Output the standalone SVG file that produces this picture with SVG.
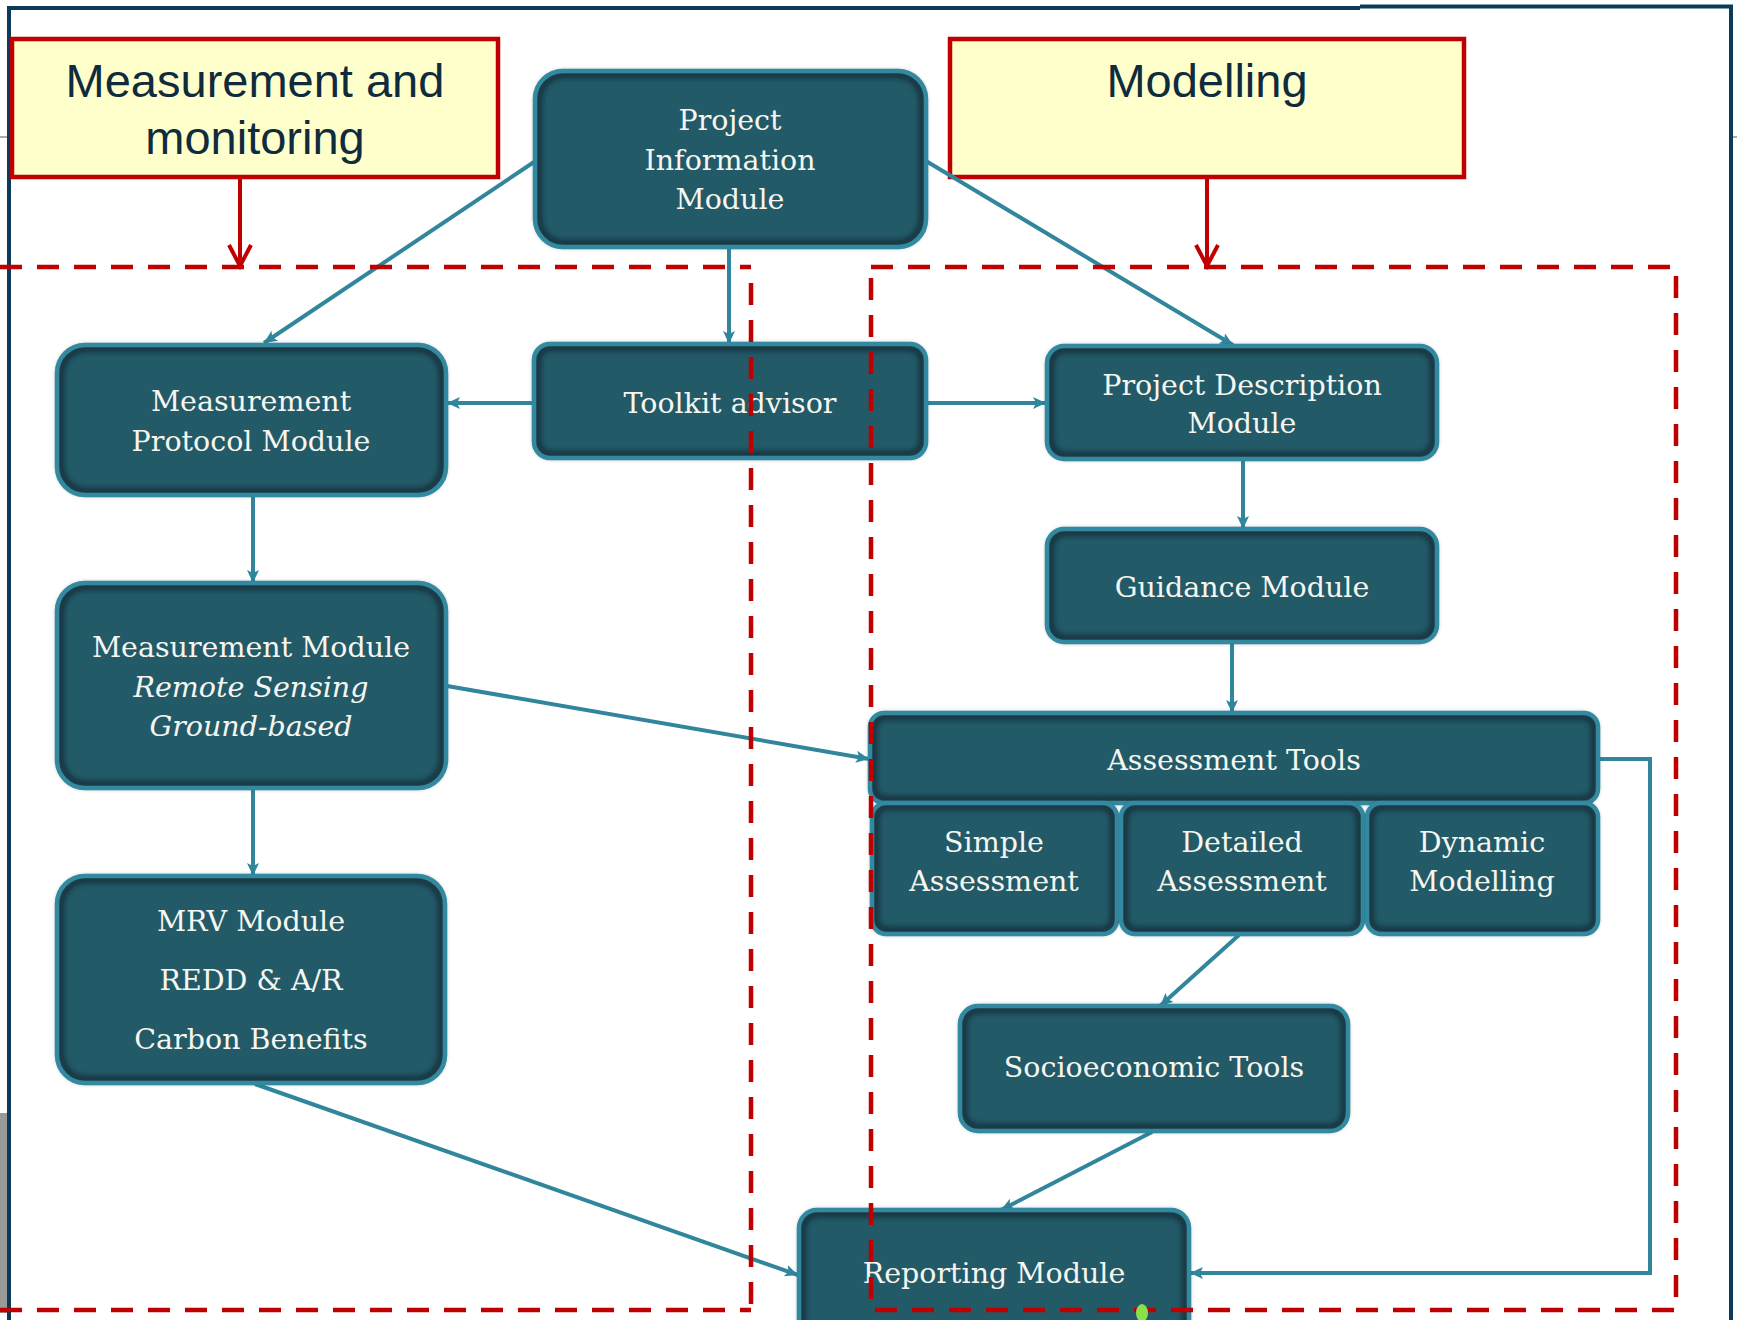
<svg xmlns="http://www.w3.org/2000/svg" width="1737" height="1320" viewBox="0 0 1737 1320">
<style>
.lbl{fill:#ffffcc;stroke:#c00000;stroke-width:4.5}
.lt{font-family:"Liberation Sans",Arial,sans-serif;font-size:47px;fill:#0f2b3d;text-anchor:middle}
.nf{fill:#235a68}
.ns{fill:none;stroke:#143641;stroke-width:7;filter:url(#bl)}
.nb{fill:none;stroke:#3389a0;stroke-width:4.5}
.t{font-family:"DejaVu Serif","Liberation Serif",serif;font-size:28.5px;fill:#f6f6f0;text-anchor:middle}
.i{font-style:italic}
.c{fill:none;stroke:#31869c;stroke-width:4}
.r{fill:none;stroke:#c00000;stroke-width:4}
.d{fill:none;stroke:#c00000;stroke-width:4.5;stroke-dasharray:22 15}
.fr{fill:none;stroke:#0b3a5a;stroke-width:4}
</style>
<defs>
<filter id="bl" x="-10%" y="-10%" width="120%" height="120%"><feGaussianBlur stdDeviation="2.5"/></filter>
<marker id="ah" markerUnits="userSpaceOnUse" markerWidth="14" markerHeight="14" refX="13" refY="7" orient="auto"><path d="M0,1 L13,7 L0,13 L3,7 z" fill="#31869c"/></marker>
</defs>
<rect width="1737" height="1320" fill="#ffffff"/>
<g id="background">
<rect x="0" y="1113" width="8" height="200" fill="#9a9a9a"/>
<line x1="0" y1="137" x2="8" y2="137" stroke="#909090" stroke-width="1.5"/>
<line x1="1733" y1="137" x2="1737" y2="137" stroke="#909090" stroke-width="1.5"/>
<path class="fr" d="M9,1320 L9,8 L1360,8"/>
<path class="fr" d="M1360,6.5 L1731,6.5 L1731,1320"/>
</g>
<g id="label-measurement">
<rect class="lbl" x="12" y="39" width="486" height="138"/>
<text class="lt" x="255" y="97">Measurement and</text>
<text class="lt" x="255" y="154">monitoring</text>
</g>
<g id="label-modelling">
<rect class="lbl" x="950" y="39" width="514" height="138"/>
<text class="lt" x="1207" y="97">Modelling</text>
</g>
<g id="connectors">
<path class="r" d="M240,177 L240,265"/>
<path class="r" d="M229,245 L240,266 L251,245"/>
<path class="r" d="M1207,177 L1207,265"/>
<path class="r" d="M1196,245 L1207,266 L1218,245"/>
<path class="c" marker-end="url(#ah)" d="M534,162 L264,343"/>
<path class="c" marker-end="url(#ah)" d="M729,247 L729,344"/>
<path class="c" marker-end="url(#ah)" d="M926,161 L1233,345"/>
<path class="c" marker-end="url(#ah)" d="M534,403 L447,403"/>
<path class="c" marker-end="url(#ah)" d="M926,403 L1046,403"/>
<path class="c" marker-end="url(#ah)" d="M1243,459 L1243,529"/>
<path class="c" marker-end="url(#ah)" d="M1232,642 L1232,713"/>
<path class="c" marker-end="url(#ah)" d="M253,495 L253,583"/>
<path class="c" marker-end="url(#ah)" d="M447,686 L869,759"/>
<path class="c" marker-end="url(#ah)" d="M253,788 L253,876"/>
<path class="c" marker-end="url(#ah)" d="M255,1084 L798,1275"/>
<path class="c" marker-end="url(#ah)" d="M1239,935 L1160,1006"/>
<path class="c" marker-end="url(#ah)" d="M1152,1132 L1001,1210"/>
<path class="c" marker-end="url(#ah)" d="M1598,759 L1650,759 L1650,1273 L1190,1273"/>
</g>
<g id="pim">
<rect class="nf" x="535" y="71" width="391" height="176" rx="28"/>
<rect class="ns" x="539" y="75" width="383" height="168" rx="25"/>
<rect class="nb" x="535" y="71" width="391" height="176" rx="28"/>
<text class="t" x="730" y="130">Project</text>
<text class="t" x="730" y="170">Information</text>
<text class="t" x="730" y="209">Module</text>
</g>
<g id="mpm">
<rect class="nf" x="57" y="345" width="389" height="150" rx="28"/>
<rect class="ns" x="61" y="349" width="381" height="142" rx="25"/>
<rect class="nb" x="57" y="345" width="389" height="150" rx="28"/>
<text class="t" x="251" y="411">Measurement</text>
<text class="t" x="251" y="451">Protocol Module</text>
</g>
<g id="toolkit">
<rect class="nf" x="534" y="344" width="392" height="114" rx="16"/>
<rect class="ns" x="538" y="348" width="384" height="106" rx="13"/>
<rect class="nb" x="534" y="344" width="392" height="114" rx="16"/>
<text class="t" x="730" y="413">Toolkit advisor</text>
</g>
<g id="pdm">
<rect class="nf" x="1047" y="346" width="390" height="113" rx="17"/>
<rect class="ns" x="1051" y="350" width="382" height="105" rx="14"/>
<rect class="nb" x="1047" y="346" width="390" height="113" rx="17"/>
<text class="t" x="1242" y="395">Project Description</text>
<text class="t" x="1242" y="433">Module</text>
</g>
<g id="guidance">
<rect class="nf" x="1047" y="529" width="390" height="113" rx="17"/>
<rect class="ns" x="1051" y="533" width="382" height="105" rx="14"/>
<rect class="nb" x="1047" y="529" width="390" height="113" rx="17"/>
<text class="t" x="1242" y="597">Guidance Module</text>
</g>
<g id="mm">
<rect class="nf" x="57" y="583" width="389" height="205" rx="28"/>
<rect class="ns" x="61" y="587" width="381" height="197" rx="25"/>
<rect class="nb" x="57" y="583" width="389" height="205" rx="28"/>
<text class="t" x="251" y="657">Measurement Module</text>
<text class="t i" x="251" y="697">Remote Sensing</text>
<text class="t i" x="251" y="736">Ground-based</text>
</g>
<g id="assessment">
<rect class="nf" x="870" y="713" width="728" height="90" rx="14"/>
<rect class="ns" x="874" y="717" width="720" height="82" rx="11"/>
<rect class="nb" x="870" y="713" width="728" height="90" rx="14"/>
<text class="t" x="1234" y="770">Assessment Tools</text>
</g>
<g id="simple">
<rect class="nf" x="872" y="803" width="245" height="131" rx="14"/>
<rect class="ns" x="876" y="807" width="237" height="123" rx="11"/>
<rect class="nb" x="872" y="803" width="245" height="131" rx="14"/>
<text class="t" x="994" y="852">Simple</text>
<text class="t" x="994" y="891">Assessment</text>
</g>
<g id="detailed">
<rect class="nf" x="1121" y="803" width="242" height="131" rx="14"/>
<rect class="ns" x="1125" y="807" width="234" height="123" rx="11"/>
<rect class="nb" x="1121" y="803" width="242" height="131" rx="14"/>
<text class="t" x="1242" y="852">Detailed</text>
<text class="t" x="1242" y="891">Assessment</text>
</g>
<g id="dynamic">
<rect class="nf" x="1367" y="803" width="231" height="131" rx="14"/>
<rect class="ns" x="1371" y="807" width="223" height="123" rx="11"/>
<rect class="nb" x="1367" y="803" width="231" height="131" rx="14"/>
<text class="t" x="1482" y="852">Dynamic</text>
<text class="t" x="1482" y="891">Modelling</text>
</g>
<g id="mrv">
<rect class="nf" x="57" y="876" width="388" height="207" rx="28"/>
<rect class="ns" x="61" y="880" width="380" height="199" rx="25"/>
<rect class="nb" x="57" y="876" width="388" height="207" rx="28"/>
<text class="t" x="251" y="931">MRV Module</text>
<text class="t" x="251" y="990">REDD &amp; A/R</text>
<text class="t" x="251" y="1049">Carbon Benefits</text>
</g>
<g id="socio">
<rect class="nf" x="960" y="1006" width="388" height="125" rx="18"/>
<rect class="ns" x="964" y="1010" width="380" height="117" rx="15"/>
<rect class="nb" x="960" y="1006" width="388" height="125" rx="18"/>
<text class="t" x="1154" y="1077">Socioeconomic Tools</text>
</g>
<g id="reporting">
<rect class="nf" x="799" y="1210" width="390" height="140" rx="18"/>
<rect class="ns" x="803" y="1214" width="382" height="132" rx="15"/>
<rect class="nb" x="799" y="1210" width="390" height="140" rx="18"/>
<text class="t" x="994" y="1283">Reporting Module</text>
</g>
<g id="regions">
<path class="d" d="M0,267 L751,267"/>
<path class="d" d="M751,283 L751,1310"/>
<path class="d" d="M0,1310 L751,1310"/>
<path class="d" d="M871,267 L1676,267 L1676,1310 L871,1310 Z"/>
</g>
<ellipse cx="1142" cy="1313" rx="6" ry="9" fill="#8ce04a"/>
</svg>
